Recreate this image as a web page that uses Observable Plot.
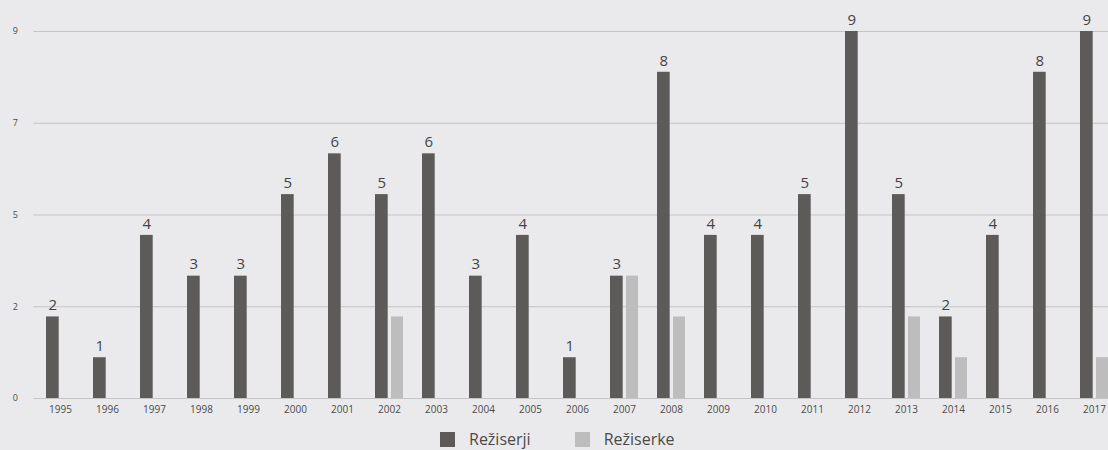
<!DOCTYPE html>
<html>
<head>
<meta charset="utf-8">
<script src="https://cdn.jsdelivr.net/npm/d3@7"></script>
<script src="https://cdn.jsdelivr.net/npm/@observablehq/plot@0.6"></script>
<style>
  html, body { margin: 0; padding: 0; background: #eaeaec; overflow: hidden; width: 1108px; height: 450px; }
  #chart { width: 1108px; overflow: hidden; }
  #chart svg { display: block; max-width: none !important; }
  .legend { display: flex; align-items: center; padding-left: 440px; margin-top: 8px; font-family: "Open Sans", sans-serif; font-size: 16px; color: #4a4a4a; }
  .legend .item { display: flex; align-items: center; margin-right: 44px; }
  .legend .sw { width: 15px; height: 15px; margin-right: 14px; }
</style>
</head>
<body>
<div id="chart"></div>
<script>
const years = ["1995","1996","1997","1998","1999","2000","2001","2002","2003","2004","2005","2006","2007","2008","2009","2010","2011","2012","2013","2014","2015","2016","2017"];
const reziserji = [2,1,4,3,3,5,6,5,6,3,4,1,3,8,4,4,5,9,5,2,4,8,9];
const reziserke = [0,0,0,0,0,0,0,2,0,0,0,0,3,2,0,0,0,0,2,1,0,0,1];
const seriesNames = ["Režiserji", "Režiserke"];
const seriesColors = ["#5d5a5a", "#bdbdbd"];
const yTicks = [0, 2.25, 4.5, 6.75, 9];
const yTickLabels = ["0", "2", "5", "7", "9"];

const darkData = years.map((y, i) => ({year: y, value: reziserji[i], series: seriesNames[0]}));
const lightData = years.map((y, i) => ({year: y, value: reziserke[i], series: seriesNames[1]})).filter(d => d.value > 0);

const chart = Plot.plot({
  width: 1120,
  height: 420,
  marginLeft: 33.4,
  marginRight: 0,
  marginTop: 31,
  marginBottom: 22,
  style: {background: "transparent", fontFamily: "Open Sans, sans-serif", color: "#555", maxWidth: "none"},
  x: {domain: years, paddingInner: 0.4, paddingOuter: 0.2, axis: null, label: null},
  y: {domain: [0, 9], axis: null, label: null},
  color: {domain: seriesNames, range: seriesColors},
  marks: [
    Plot.ruleY(yTicks, {stroke: "#c4c4c6", strokeWidth: 1}),
    Plot.barY(darkData, {x: "year", y: "value", fill: "series", insetLeft: 0, insetRight: 15.3}),
    Plot.barY(lightData, {x: "year", y: "value", fill: "series", insetLeft: 16, insetRight: 0}),
    Plot.text(darkData, {x: "year", y: "value", text: d => String(d.value), dx: -7.6, dy: -11.5, fontSize: 15, fill: "#444"}),
    Plot.axisX({tickSize: 0, tickPadding: 7, fontSize: 10, fill: "#4a4a4a", label: null}),
    Plot.axisY(yTicks, {tickSize: 0, tickPadding: 16, fontSize: 9, fill: "#4a4a4a", label: null, tickFormat: d => yTickLabels[yTicks.indexOf(d)]})
  ]
});
document.getElementById("chart").appendChild(chart);

const legend = document.createElement("div");
legend.className = "legend";
seriesNames.forEach((name, i) => {
  const item = document.createElement("div");
  item.className = "item";
  const sw = document.createElement("span");
  sw.className = "sw";
  sw.style.background = seriesColors[i];
  const label = document.createElement("span");
  label.textContent = name;
  item.appendChild(sw);
  item.appendChild(label);
  legend.appendChild(item);
});
document.body.appendChild(legend);
</script>
</body>
</html>
